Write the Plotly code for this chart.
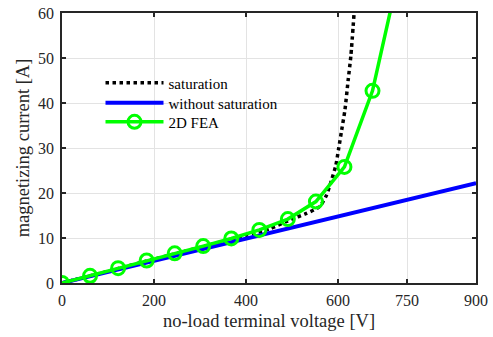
import plotly.graph_objects as go

# Data
fea_v = [0, 61, 122, 184, 245, 307, 368, 429, 491, 552, 614, 675, 736]
fea_i = [0, 1.6, 3.3, 5.0, 6.6, 8.2, 9.9, 11.8, 14.2, 18.1, 25.8, 42.7, 70.5]

sat_v = [0, 100, 200, 300, 400, 450, 500, 530, 560, 575, 586, 595, 601, 608, 615, 622, 628, 635]
sat_i = [0, 2.6, 5.3, 7.9, 10.6, 12.0, 14.2, 15.4, 17.0, 19.5, 22.9, 26.0, 29.6, 34.0, 38.4, 45.0, 50.5, 60.0]

lin_v = [0, 900]
lin_i = [0, 22.2]

x_ticks = [0, 200, 400, 600, 750, 900]
y_ticks = [0, 10, 20, 30, 40, 50, 60]

FONT = "Times New Roman, Liberation Serif, DejaVu Serif, serif"
AX = "#262626"

fig = go.Figure()
fig.add_trace(go.Scatter(x=sat_v, y=sat_i, mode="lines", name="saturation", legend="legend",
                         line=dict(color="black", width=3.5, dash="dot", shape="spline", smoothing=0.6)))
fig.add_trace(go.Scatter(x=lin_v, y=lin_i, mode="lines", name="without saturation", legend="legend2",
                         line=dict(color="#0000ff", width=4)))
fig.add_trace(go.Scatter(x=fea_v, y=fea_i, mode="lines+markers", name="2D FEA", legend="legend3",
                         line=dict(color="#00ff00", width=3.5),
                         marker=dict(symbol="circle-open", size=13, color="#00ff00",
                                     line=dict(width=3, color="#00ff00"))))

axis_common = dict(
    showline=True, linecolor=AX, linewidth=1.5, mirror="ticks",
    ticks="inside", ticklen=4, tickcolor=AX, tickwidth=1.5,
    showgrid=True, gridcolor="#e3e3e3", gridwidth=1,
    zeroline=False, automargin=False,
    tickfont=dict(family=FONT, size=16, color=AX),
)

def leg(y):
    return dict(x=0.093, y=y, xanchor="left", yanchor="middle",
                bgcolor="rgba(0,0,0,0)", font=dict(family=FONT, size=15, color="black"),
                itemwidth=58)

fig.update_layout(
    width=493, height=337,
    margin=dict(l=62, r=17, t=13, b=54),
    paper_bgcolor="white", plot_bgcolor="white",
    font=dict(family=FONT, color=AX),
    showlegend=True,
    legend=leg(0.741),
    legend2=leg(0.667),
    legend3=leg(0.596),
    xaxis=dict(range=[0, 900], tickvals=x_ticks, ticktext=[str(t) for t in x_ticks],
               ticklabelstandoff=2,
               title=dict(text="no-load terminal voltage [V]", font=dict(family=FONT, size=18.5, color=AX), standoff=6),
               **axis_common),
    yaxis=dict(range=[0, 60], tickvals=y_ticks, ticklabelstandoff=3,
               title=dict(text="magnetizing current [A]", font=dict(family=FONT, size=18.5, color=AX), standoff=4),
               **axis_common),
)

fig.write_html("out.html")
